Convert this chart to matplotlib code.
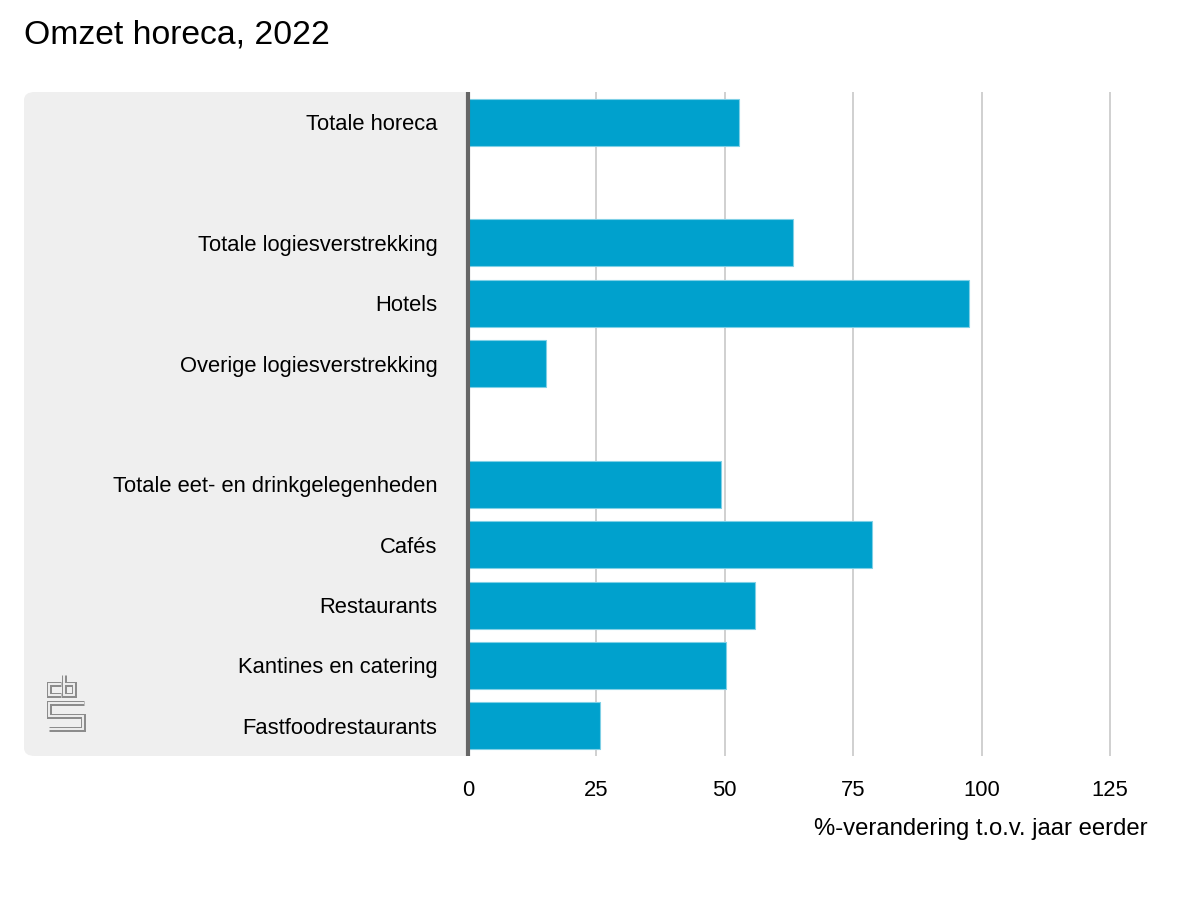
import matplotlib
matplotlib.use("Agg")
import matplotlib.pyplot as plt
from matplotlib.patches import FancyBboxPatch
from matplotlib.lines import Line2D

plt.rcParams['font.family'] = ['Liberation Sans', 'DejaVu Sans']

title = "Omzet horeca, 2022"
categories = ["Totale horeca", "", "Totale logiesverstrekking", "Hotels",
              "Overige logiesverstrekking", "", "Totale eet- en drinkgelegenheden",
              "Cafés", "Restaurants", "Kantines en catering", "Fastfoodrestaurants"]
values = [52.7, None, 63.2, 97.5, 15.2, None, 49.2, 78.7, 55.8, 50.3, 25.7]
xticks = [0, 25, 50, 75, 100, 125]
xlabel = "%-verandering t.o.v. jaar eerder"

W, H = 1200, 900
fig = plt.figure(figsize=(12, 9), dpi=100)

def fx(px):
    return px / W

def fy(py):
    return 1 - py / H

ax_left, ax_right, ax_top, ax_bot = 468, 1148, 92, 756
ax = fig.add_axes([fx(ax_left), fy(ax_bot), fx(ax_right) - fx(ax_left), fy(ax_top) - fy(ax_bot)])
ax.set_zorder(2)

# grey panel behind labels
panel = FancyBboxPatch((fx(24), fy(756)), fx(500) - fx(24), fy(92) - fy(756),
                       boxstyle="round,pad=0,rounding_size=0.009", transform=fig.transFigure,
                       facecolor="#EFEFEF", edgecolor="none", zorder=-1)
fig.patches.append(panel)

ypos = list(range(len(categories)))
for y, v in zip(ypos, values):
    if v is None:
        continue
    ax.barh(y, v, height=0.78, color="#00A1CD", edgecolor="#7FD0E6", linewidth=0.8, zorder=3)

ax.set_ylim(len(categories) - 0.5, -0.5)
ax.set_xlim(0, (ax_right - ax_left) / 5.136)
ax.set_xticks(xticks)
ax.set_xticklabels([str(t) for t in xticks], fontsize=15.8, color="#000000")
ax.set_yticks(ypos)
ax.set_yticklabels(categories, fontsize=15.8, color="#000000")
ax.tick_params(axis='y', length=0, pad=22)
ax.tick_params(axis='x', length=0, pad=17.5)
ax.xaxis.grid(True, color="#C8C8C8", linewidth=1.2, zorder=0)
ax.set_axisbelow(True)
for s in ["top", "right", "bottom"]:
    ax.spines[s].set_visible(False)
ax.spines["left"].set_color("#666666")
ax.spines["left"].set_linewidth(3)
ax.spines["left"].set_capstyle("butt")
ax.spines["left"].set_zorder(5)
ax.patch.set_facecolor("white")

fig.text(fx(1148), fy(829), xlabel, ha="right", va="center", fontsize=17.2, color="#000000")
fig.text(fx(24), fy(35), title, ha="left", va="center", fontsize=24.3, color="#000000")

# CBS logo approximation
def logo_path(pts):
    xs = [fx(p[0]) for p in pts]
    ys = [fy(p[1]) for p in pts]
    fig.add_artist(Line2D(xs, ys, transform=fig.transFigure, color="#8C8C8C", linewidth=3.6,
                          solid_joinstyle="miter", solid_capstyle="butt", zorder=3))
    fig.add_artist(Line2D(xs, ys, transform=fig.transFigure, color="#EFEFEF", linewidth=1.4,
                          solid_joinstyle="miter", solid_capstyle="butt", zorder=3))

logo_path([(61, 684), (49, 684), (49, 695), (61, 695)])
logo_path([(64, 675), (64, 695), (74, 695), (74, 684), (64, 684)])
logo_path([(84, 703), (49, 703), (49, 716), (83, 716), (83, 729), (49, 729)])

fig.savefig("out.png", dpi=100, facecolor="white")
